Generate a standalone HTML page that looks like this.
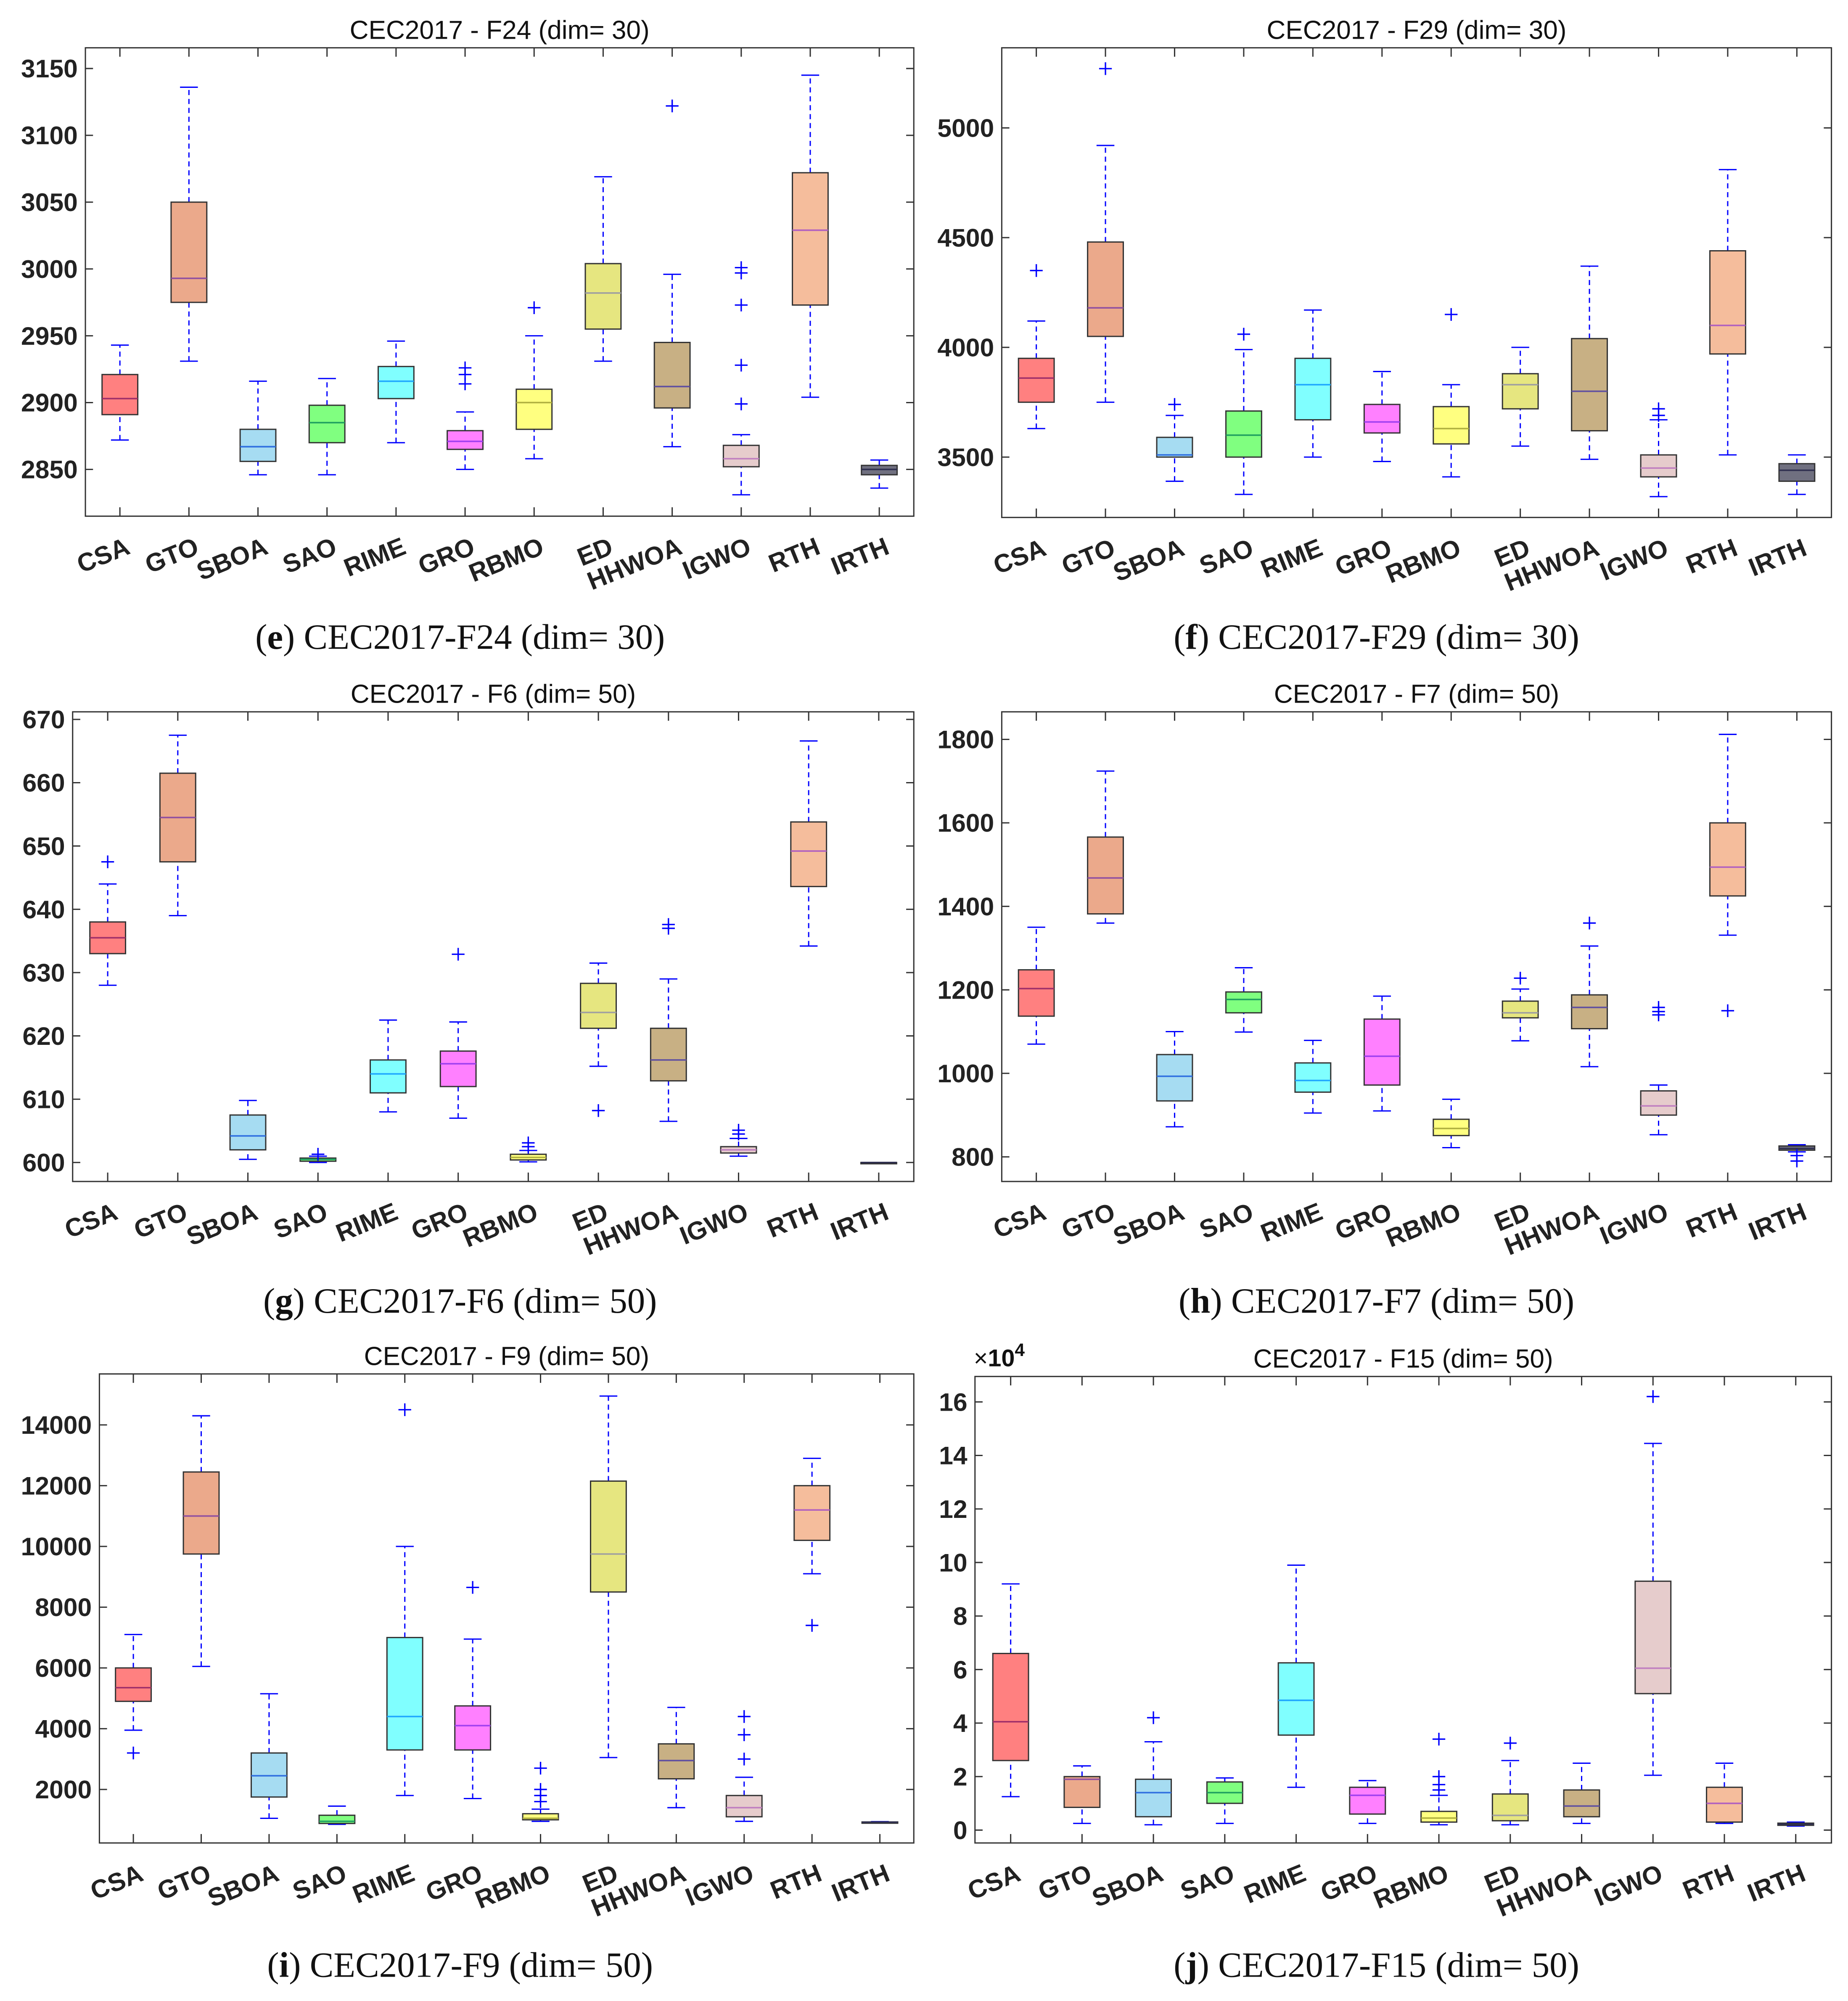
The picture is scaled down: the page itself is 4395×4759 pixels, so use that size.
<!DOCTYPE html>
<html><head><meta charset="utf-8">
<style>
html,body{margin:0;padding:0;background:#fff;}
svg{display:block;}
</style></head>
<body>
<svg id="fig" xmlns="http://www.w3.org/2000/svg" width="4395" height="4759" viewBox="0 0 1450 1570" preserveAspectRatio="none">
<rect x="0" y="0" width="1450" height="1570" fill="#fff"/>
</svg>
<script>
const categories = ["CSA","GTO","SBOA","SAO","RIME","GRO","RBMO","ED","HHWOA","IGWO","RTH","IRTH"];
const fills = ["#ff8080","#eba98b","#a6dcf2","#80ff80","#80ffff","#ff80ff","#ffff80","#e6e680","#c8b084","#e6cccc","#f5bd9c","#707080"];
const medColors = ["#a0306a","#9050a0","#3070e0","#20a060","#20a8ff","#a040f0","#b0b040","#a0a0a0","#6050a0","#c080c0","#b060c0","#303050"];

// [lowWhisker, q1, median, q3, highWhisker]
const f24Stats = [[2872,2891,2903,2921,2943],[2931,2975,2993,3050,3136],[2846,2856,2867,2880,2916],[2846,2870,2885,2898,2918],[2870,2903,2916,2927,2946],[2850,2865,2871,2879,2893],[2858,2880,2900,2910,2950],[2931,2955,2982,3004,3069],[2867,2896,2912,2945,2996],[2831,2852,2858,2868,2876],[2904,2973,3029,3072,3145],[2836,2846,2850,2853,2857]];
const f24Out = [[],[],[],[],[],[2914,2921,2926],[2971],[],[3122],[2899,2928,2973,2997,3001],[],[]];
const f24Ticks = [2850,2900,2950,3000,3050,3100,3150];

const f29Stats = [[3630,3750,3860,3950,4120],[3750,4050,4180,4480,4920],[3390,3500,3510,3590,3690],[3330,3500,3600,3710,3990],[3500,3670,3830,3950,4170],[3480,3610,3660,3740,3890],[3410,3560,3630,3730,3830],[3550,3720,3830,3880,4000],[3490,3620,3800,4040,4370],[3320,3410,3450,3510,3670],[3510,3970,4100,4440,4810],[3330,3390,3440,3470,3510]];
const f29Out = [[4350],[5270],[3740],[4060],[],[],[4150],[],[],[3690,3720],[],[]];
const f29Ticks = [3500,4000,4500,5000];

const f6Stats = [[628,633,635.5,638,644],[639,647.5,654.5,661.5,667.5],[600.5,602,604.2,607.5,609.8],[600,600.2,600.5,600.7,601],[608,611,614,616.2,622.5],[607,612,615.6,617.6,622.2],[600.1,600.4,600.8,601.3,601.9],[615.2,621.2,623.7,628.3,631.5],[606.5,612.9,616.2,621.2,629],[601,601.5,602,602.5,603.8],[634.2,643.6,649.2,653.8,666.6],[600,600,600,600,600]];
const f6Out = [[647.5],[],[],[601.3],[],[632.9],[602.5,603.1],[608.2],[637,637.6],[604.5,605.1],[],[]];
const f6Ticks = [600,610,620,630,640,650,660,670];

const f7Stats = [[1070,1137,1203,1248,1350],[1360,1382,1468,1566,1724],[872,934,993,1045,1100],[1099,1145,1177,1195,1253],[905,955,983,1025,1079],[910,972,1041,1130,1185],[822,851,868,890,938],[1078,1133,1145,1173,1202],[1016,1107,1158,1188,1305],[853,900,922,958,972],[1331,1425,1494,1600,1812],[812,816,820,826,829]];
const f7Out = [[],[],[],[],[],[],[],[1228],[1360],[1140,1148,1158],[1150],[803,790]];
const f7Ticks = [800,1000,1200,1400,1600,1800];

const f9Stats = [[3950,4900,5350,6000,7100],[6050,9750,11000,12450,14300],[1050,1750,2450,3200,5150],[850,880,950,1150,1450],[1800,3300,4400,7000,10000],[1700,3300,4100,4750,6950],[950,1000,1050,1200,1350],[3050,8500,9750,12150,14950],[1400,2350,2950,3500,4700],[950,1100,1400,1800,2400],[9100,10200,11200,12000,12900],[900,910,920,930,940]];
const f9Out = [[3200],[],[],[],[14500],[8650],[1600,1800,2000,2700],[],[],[3000,3800,4400],[7400],[]];
const f9Ticks = [2000,4000,6000,8000,10000,12000,14000];

const f15Stats = [[1.25,2.6,4.05,6.6,9.2],[0.25,0.85,1.9,2.0,2.4],[0.2,0.5,1.4,1.9,3.3],[0.25,1.0,1.4,1.8,1.95],[1.6,3.55,4.85,6.25,9.9],[0.25,0.6,1.3,1.6,1.85],[0.2,0.3,0.45,0.7,1.3],[0.2,0.35,0.55,1.35,2.6],[0.25,0.5,0.9,1.5,2.5],[2.05,5.1,6.05,9.3,14.45],[0.25,0.3,1.0,1.6,2.5],[0.15,0.18,0.22,0.26,0.3]];
const f15Out = [[],[],[4.2],[],[],[],[1.5,1.7,2.0,3.4],[3.25],[],[16.2],[],[]];
const f15Ticks = [0,2,4,6,8,10,12,14,16];

const NS = "http://www.w3.org/2000/svg";
const svg = document.getElementById('fig');
function mk(tag, attrs, parent){ const e=document.createElementNS(NS,tag); for(const k in attrs) e.setAttribute(k,attrs[k]); (parent||svg).appendChild(e); return e; }

const panels = [
 {id:"f24", title:"CEC2017 - F24 (dim= 30)", letter:"e", cap:" CEC2017-F24 (dim= 30)", L:67,R:717,T:37.5,B:405, vmin:2815, vmax:3165.5, stats:f24Stats, out:f24Out, ticks:f24Ticks, capY:509, capX:361},
 {id:"f29", title:"CEC2017 - F29 (dim= 30)", letter:"f", cap:" CEC2017-F29 (dim= 30)", L:786,R:1437,T:37.5,B:406, vmin:3225, vmax:5365, stats:f29Stats, out:f29Out, ticks:f29Ticks, capY:509, capX:1080},
 {id:"f6", title:"CEC2017 - F6 (dim= 50)", letter:"g", cap:" CEC2017-F6 (dim= 50)", L:57,R:717,T:558.5,B:927, vmin:597, vmax:671.2, stats:f6Stats, out:f6Out, ticks:f6Ticks, capY:1030, capX:361},
 {id:"f7", title:"CEC2017 - F7 (dim= 50)", letter:"h", cap:" CEC2017-F7 (dim= 50)", L:786,R:1437,T:558.5,B:927, vmin:741, vmax:1866, stats:f7Stats, out:f7Out, ticks:f7Ticks, capY:1030, capX:1080},
 {id:"f9", title:"CEC2017 - F9 (dim= 50)", letter:"i", cap:" CEC2017-F9 (dim= 50)", L:78,R:717,T:1078,B:1446, vmin:238, vmax:15678, stats:f9Stats, out:f9Out, ticks:f9Ticks, capY:1551, capX:361},
 {id:"f15", title:"CEC2017 - F15 (dim= 50)", letter:"j", cap:" CEC2017-F15 (dim= 50)", L:765,R:1437,T:1080,B:1446, vmin:-0.48, vmax:16.95, stats:f15Stats, out:f15Out, ticks:f15Ticks, capY:1551, capX:1080, exp:true}
];

panels.forEach(p=>{
  const g = mk('g',{});
  
  
  const n = categories.length;
  const sp = (p.R-p.L)/n;
  const xc = i => p.L + sp*(i+0.5);
  const y = v => p.B - (v-p.vmin)/(p.vmax-p.vmin)*(p.B-p.T);
  const bw = 28;

  const frame = mk('rect',{x:p.L,y:p.T,width:p.R-p.L,height:p.B-p.T,fill:'none',stroke:'#333',"stroke-width":1},g);
  
  

  const title = mk('text',{x:(p.L+p.R)/2,y:p.T-7,"text-anchor":"middle","font-family":"Liberation Sans, sans-serif","font-size":20.5,fill:'#111'},g);
  title.textContent = p.title;
  
  

  p.ticks.forEach(t=>{
    const yy = y(t);
    mk('line',{x1:p.L,x2:p.L+6,y1:yy,y2:yy,stroke:'#333'},g);
    mk('line',{x1:p.R,x2:p.R-6,y1:yy,y2:yy,stroke:'#333'},g);
    const tl = mk('text',{x:p.L-6,y:yy+7,"text-anchor":"end","font-family":"Liberation Sans, sans-serif","font-size":20,"font-weight":"bold",fill:'#222'},g);
    tl.textContent = t;
    
    
  });
  if(p.exp){
    const ex = mk('text',{x:p.L-1,y:p.T-8,"font-family":"Liberation Sans, sans-serif","font-size":19,fill:'#111'},g);
    ex.innerHTML = '×<tspan font-weight="bold">10</tspan><tspan dy="-8" font-size="14" font-weight="bold">4</tspan>';
    
    
  }

  categories.forEach((c,i)=>{
    const x = xc(i);
    mk('line',{x1:x,x2:x,y1:p.T,y2:p.T+7,stroke:'#333'},g);
    mk('line',{x1:x,x2:x,y1:p.B,y2:p.B-7,stroke:'#333'},g);
    const lx = x+9, ly = p.B+29;
    const lab = mk('text',{x:lx,y:ly,"text-anchor":"end","font-family":"Liberation Sans, sans-serif","font-size":20,"font-weight":"bold",fill:'#222',transform:`rotate(-22 ${lx} ${ly})`},g);
    lab.textContent = c;
    
    

    const s = p.stats[i];
    const bg = mk('g',{},g);
    
    
    mk('line',{x1:x,x2:x,y1:y(s[0]),y2:y(s[1]),stroke:'#0000ff',"stroke-dasharray":"4 3","stroke-width":1},bg);
    mk('line',{x1:x,x2:x,y1:y(s[3]),y2:y(s[4]),stroke:'#0000ff',"stroke-dasharray":"4 3","stroke-width":1},bg);
    mk('line',{x1:x-7,x2:x+7,y1:y(s[0]),y2:y(s[0]),stroke:'#0000ff',"stroke-width":1},bg);
    mk('line',{x1:x-7,x2:x+7,y1:y(s[4]),y2:y(s[4]),stroke:'#0000ff',"stroke-width":1},bg);
    const h = Math.max(1, y(s[1])-y(s[3]));
    mk('rect',{x:x-bw/2,y:y(s[3]),width:bw,height:h,fill:fills[i],stroke:'#333',"stroke-width":1},bg);
    mk('line',{x1:x-bw/2,x2:x+bw/2,y1:y(s[2]),y2:y(s[2]),stroke:medColors[i],"stroke-width":1.2},bg);
    p.out[i].forEach(o=>{
      const oy = y(o);
      const pl = mk('path',{d:`M${x-5} ${oy}H${x+5}M${x} ${oy-5}V${oy+5}`,stroke:'#0000ff',"stroke-width":1.1,fill:'none'},bg);
      
      
    });
  });

  const cap = mk('text',{x:p.capX,y:p.capY,"text-anchor":"middle","font-family":"Liberation Serif, serif","font-size":28,fill:'#111'},g);
  cap.innerHTML = '(<tspan font-weight="bold">'+p.letter+'</tspan>)'+p.cap;
  
  
});
</script>
</body></html>
